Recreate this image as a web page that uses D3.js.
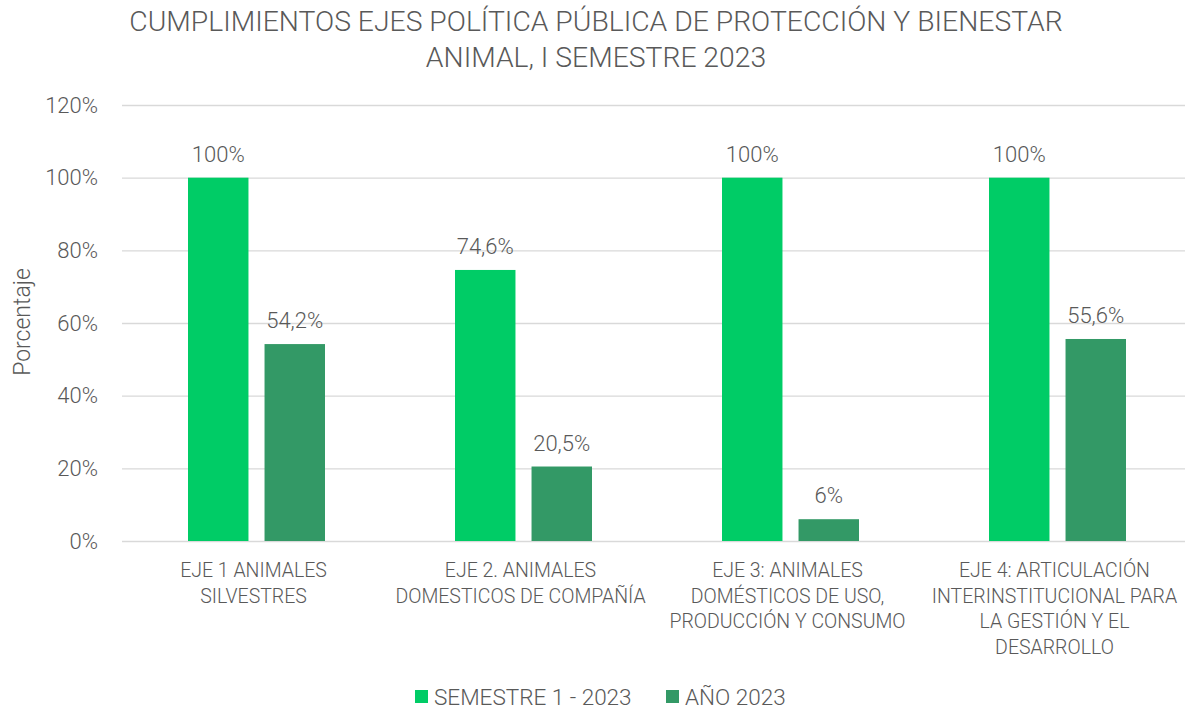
<!DOCTYPE html>
<html>
<head>
<meta charset="utf-8">
<script src="https://cdn.jsdelivr.net/npm/d3@7"></script>
<style>
  body { margin: 0; background: #fff; overflow: hidden; }
  svg { font-family: Roboto, sans-serif; }
  text { fill: #595959; }
</style>
</head>
<body>
<svg id="chart" width="1185" height="710"></svg>
<script>
var categories = [
    ["EJE 1 ANIMALES", "SILVESTRES"],
    ["EJE 2. ANIMALES", "DOMESTICOS DE COMPAÑÍA"],
    ["EJE 3: ANIMALES", "DOMÉSTICOS DE USO,", "PRODUCCIÓN Y CONSUMO"],
    ["EJE 4: ARTICULACIÓN", "INTERINSTITUCIONAL PARA", "LA GESTIÓN Y EL", "DESARROLLO"]
];
var seriesNames = ["SEMESTRE 1 - 2023", "AÑO 2023"];
var semestre = [100, 74.6, 100, 100];
var anio = [54.2, 20.5, 6, 55.6];
var semestreLabels = ["100%", "74,6%", "100%", "100%"];
var anioLabels = ["54,2%", "20,5%", "6%", "55,6%"];
var yTicks = [0, 20, 40, 60, 80, 100, 120];
var colors = ["#00cc66", "#339966"];

var svg = d3.select('#chart');
var plotLeft = 122, plotRight = 1190, plotTop = 105, plotBottom = 541;

var x = d3.scaleBand()
    .domain(d3.range(categories.length))
    .range([plotLeft, plotRight]);

var inner = d3.scaleBand()
    .domain([0, 1])
    .range([66, x.bandwidth() - 64])
    .paddingInner(0.21);

var y = d3.scaleLinear()
    .domain([0, 120])
    .range([plotBottom, plotTop]);

// title
svg.append("g")
    .selectAll("text")
    .data(["CUMPLIMIENTOS EJES POLÍTICA PÚBLICA DE PROTECCIÓN Y BIENESTAR", "ANIMAL, I SEMESTRE 2023"])
    .enter().append("text")
    .attr("x", 596)
    .attr("y", (d, i) => 31 + i * 36)
    .attr("text-anchor", "middle")
    .style("font-size", "28.3px")
    .style("font-weight", 300)
    .text(d => d);

// grid
let yAxis = d3.axisLeft(y)
    .tickValues(yTicks)
    .tickSize(-(plotRight - plotLeft))
    .tickPadding(24)
    .tickFormat(d => d + "%");

svg.append("g")
    .attr("class", "axis yAxis")
    .attr("transform", `translate(${plotLeft} 0)`)
    .call(yAxis)
    .call(g => g.select(".domain").remove())
    .call(g => g.selectAll(".tick line").attr("stroke", "#d9d9d9").attr("stroke-width", 1.3))
    .call(g => g.selectAll(".tick text")
        .attr("fill", "#595959")
        .style("font-size", "22px")
        .style("font-family", "Roboto, sans-serif")
        .style("font-weight", 300));

// y title
svg.append("text")
    .attr("transform", "translate(30 322) rotate(-90)")
    .attr("text-anchor", "middle")
    .style("font-size", "23px")
    .style("font-weight", 300)
    .text("Porcentaje");

// bars
var rows = categories.map((c, i) => ({
    i: i,
    vals: [semestre[i], anio[i]],
    labels: [semestreLabels[i], anioLabels[i]]
}));

var groups = svg.append("g")
    .selectAll("g")
    .data(rows)
    .enter().append("g")
    .attr("transform", d => `translate(${x(d.i)} 0)`);

groups.selectAll("rect")
    .data(d => d.vals.map((v, k) => ({ v: v, k: k, label: d.labels[k] })))
    .enter().append("rect")
    .attr("x", d => inner(d.k))
    .attr("width", inner.bandwidth())
    .attr("y", d => y(d.v))
    .attr("height", d => y(0) - y(d.v))
    .attr("fill", d => colors[d.k]);

groups.selectAll("text.val")
    .data(d => d.vals.map((v, k) => ({ v: v, k: k, label: d.labels[k] })))
    .enter().append("text")
    .attr("class", "val")
    .attr("x", d => inner(d.k) + inner.bandwidth() / 2)
    .attr("y", d => y(d.v) - 16)
    .attr("text-anchor", "middle")
    .style("font-size", "22px")
    .style("font-weight", 300)
    .text(d => d.label);

// category labels
groups.append("text")
    .attr("text-anchor", "middle")
    .style("font-size", "19.5px")
    .style("font-weight", 300)
    .selectAll("tspan")
    .data(d => categories[d.i])
    .enter().append("tspan")
    .attr("x", x.bandwidth() / 2 - 2)
    .attr("y", (d, i) => 577 + i * 25.5)
    .text(d => d);

// legend
var legend = svg.append("g").attr("transform", "translate(415 690)");
var lx = [0, 251];
seriesNames.forEach((name, k) => {
    legend.append("rect")
        .attr("x", lx[k])
        .attr("y", 0)
        .attr("width", 13)
        .attr("height", 13)
        .attr("fill", colors[k]);
    legend.append("text")
        .attr("x", lx[k] + 19)
        .attr("y", 15)
        .style("font-size", "22.5px")
        .style("font-weight", 300)
        .text(name);
});
</script>
</body>
</html>
